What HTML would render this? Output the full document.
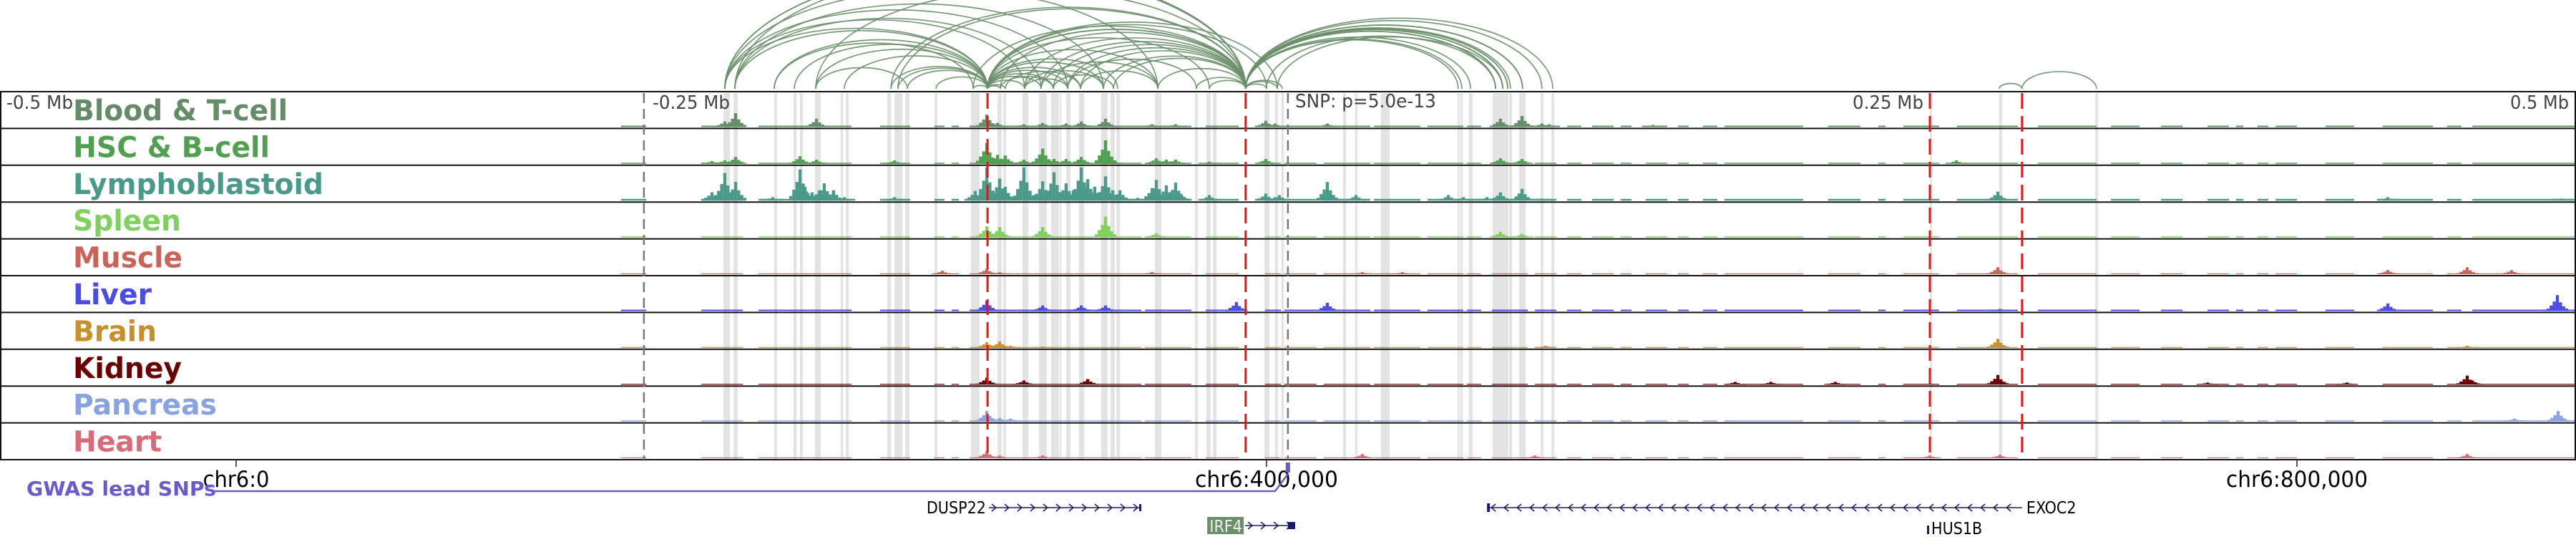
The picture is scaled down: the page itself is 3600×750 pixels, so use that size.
<!DOCTYPE html>
<html><head><meta charset="utf-8"><style>
html,body{margin:0;padding:0;background:#fff;}
svg{display:block;}
text{font-family:"DejaVu Sans Condensed","DejaVu Sans","Liberation Sans",sans-serif;}
</style></head><body>
<svg id="fig" width="3600" height="750" viewBox="0 0 3600 750" xmlns="http://www.w3.org/2000/svg">
<g id="bands"></g>
<g id="arcs"></g>
<g id="signals"></g>
<g id="frames"></g>
<g id="vlines"></g>
<g id="labels"></g>
<g id="axis"></g>
<g id="genes"></g>
</svg>
<script>
// ---- data (positions in kb on chr6) ----
const tissueNames = ["Blood & T-cell","HSC & B-cell","Lymphoblastoid","Spleen","Muscle","Liver","Brain","Kidney","Pancreas","Heart"];
const tissueColors = ["#648c66","#4fa04f","#4a9a8a","#80d060","#c8645a","#4b4be6","#c8902a","#6b0000","#88a2e2","#d86a7a"];
const baselineLevels = [2,1.5,2.5,1.5,1.2,2,1.2,1.2,1.5,1.2];
const coverage = [[149.4,159.2],[180.6,196.7],[202.8,238.9],[250,261.7],[271.1,275],[277.8,280.6],[284.7,351.4],[352.8,370.8],[376.4,389.2],[399.4,405.6],[406.9,419.4],[422.2,440.3],[441.7,459.7],[462.5,476.4],[477.8,483.3],[487.5,501.4],[504.2,512.5],[516.7,522.2],[526.4,534.7],[537.5,541.7],[547.2,555.6],[559.7,563.9],[569.4,575],[577.8,608.3],[618,630.6],[637.5,640.3],[647.2,661.1],[668,691.7],[699.4,722.2],[727.8,738.9],[747.2,755.6],[765.3,773.6],[776.4,779.2],[784.7,788.9],[791.7,800],[811.1,822.2],[833.3,852.8],[858.3,863.9],[868.1,908.3]];
const peaksBlood = [[189.7,8],[193.9,20],[225.3,12],[291.4,18],[295.6,6],[305.8,4],[313.1,6],[322.2,5],[328.1,8],[337.5,12],[355.6,4],[364.7,4],[399.7,9],[403.3,5],[423.6,5],[490.8,12],[499.2,16],[506.9,5],[509.7,4],[550,3]];
const peaksHSC = [[184.7,4],[189.7,5],[193.9,10],[218.9,11],[225.3,6],[255.6,5],[291.4,30],[295.6,13],[298.6,12],[305.8,6],[313.1,22],[317.5,7],[322.2,7],[328.1,10],[337.5,34],[340.3,5],[357.2,8],[361.1,6],[364.7,6],[377.8,3],[399.7,7],[490.8,8],[499.2,7],[667.8,5]];
const peaksLympho = [[184.7,12],[189.7,40],[193.9,27],[186.1,8],[208.3,5],[218.9,45],[220.8,20],[223.6,12],[226.4,15],[228.3,25],[231.9,15],[236.1,5],[255.6,5],[286.9,14],[291.4,48],[296.4,32],[298.6,20],[302.8,5],[305.8,48],[309.7,8],[313.1,28],[317.5,41],[322.2,25],[325,15],[328.1,48],[330.6,31],[333.3,20],[337.5,35],[340.3,15],[343.1,15],[350,4],[355.6,18],[357.2,30],[361.1,22],[364.7,26],[366.7,10],[377.8,8],[399.7,10],[403.3,5],[405,8],[423.6,27],[425.6,8],[434.7,8],[470.6,8],[476.4,5],[485.6,5],[490.8,12],[499.2,17],[506.9,3],[683.9,13],[835.3,5],[902.8,3]];
const peaksSpleen = [[291.4,16],[296.4,15],[313.1,15],[337.5,30],[357.2,6],[490.8,8],[499.2,5]];
const peaksMuscle = [[274.2,5],[291.4,8],[296.4,3],[355.6,3],[437.2,3],[452.8,3],[683.9,10],[835.3,6],[866.1,10],[883.3,6]];
const peaksLiver = [[291.4,15],[313.1,8],[328.1,8],[337.5,8],[388.3,13],[423.6,12],[684.7,3],[835.3,11],[901.1,23]];
const peaksBrain = [[291.4,8],[296.4,9],[300.6,3],[313.1,2],[508.3,3],[683.9,13],[866.1,3]];
const peaksKidney = [[291.4,10],[305.8,6],[330.6,8],[581.9,4],[595.8,4],[620.8,4],[683.9,14],[765.3,3],[819.4,3],[866.1,13],[868.1,6]];
const peaksPancreas = [[291.4,15],[296.4,5],[300.6,4],[884.4,4],[901.4,15]];
const peaksHeart = [[291.4,10],[296.4,4],[313.1,4],[437.2,6],[504.2,4],[657.5,4],[684.7,5],[866.1,6]];
const trackPeaks = [peaksBlood,peaksHSC,peaksLympho,peaksSpleen,peaksMuscle,peaksLiver,peaksBrain,peaksKidney,peaksPancreas,peaksHeart];
const bands = [[189.2,191.7],[193.1,194.7],[208.9,210],[216.4,217.5],[218.9,220],[224.7,226.9],[234.7,235.6],[236.7,237.8],[252.8,254.2],[255.6,258.6],[259.7,261.4],[271.1,272.2],[285.3,288.6],[295.6,297.2],[297.8,298.9],[305.3,307.5],[311.7,314.7],[316.4,319.4],[319.7,320.3],[322.2,323.9],[327.2,329.2],[335.8,338.3],[339.4,341.1],[341.7,343.1],[356.7,359.2],[372.2,373.3],[376.7,378.3],[379.2,380.6],[399.2,401.1],[403.3,404.4],[405.8,406.7],[429.7,430.8],[434.4,435.3],[444.4,447.8],[474.2,475],[475.3,476.1],[478.6,480],[487.8,493.9],[494.2,495.3],[498.1,500.6],[506.4,507.5],[510.6,511.7],[657.5,658.3],[684.4,685.6],[721.7,722.8]];
const redLines = [291.7,391.9,657.5,693.3];
const greyLines = [158.3,408.3];
const arcs = [[189.7,391.9],[193.6,391.9],[189.7,391.9],[225,391.9],[254.2,391.9],[256.9,391.9],[286.1,391.9],[291.7,391.9],[291.7,391.9],[296.7,391.9],[306.1,391.9],[312.5,391.9],[317.2,391.9],[322.8,391.9],[327.8,391.9],[336.7,391.9],[340.6,391.9],[357.8,391.9],[372.8,391.9],[377.8,391.9],
[291.7,296.7],[291.7,298.6],[291.7,306.1],[291.7,312.5],[291.7,317.2],[291.7,322.8],[291.7,327.8],[291.7,336.7],[291.7,342.2],[291.7,357.8],[291.7,377.8],[291.7,400],[291.7,404.2],
[189.7,291.7],[193.6,291.7],[208.9,291.7],[216.7,291.7],[225,291.7],[236.1,291.7],[254.2,291.7],[256.9,291.7],[260.6,291.7],[271.7,291.7],[286.1,291.7],
[189.7,306.1],[193.6,312.5],[189.7,322.8],[193.6,336.7],[189.7,357.8],[208.9,286.1],[225,260.6],
[306.1,336.7],[312.5,357.8],[317.2,340.6],[322.8,372.8],[327.8,357.8],[296.7,317.2],[298.6,327.8],[306.1,322.8],
[391.9,400],[391.9,404.2],[391.9,406.1],[391.9,474.4],[391.9,475.8],[391.9,479.2],[391.9,488.9],[391.9,488.9],[391.9,491.7],[391.9,491.7],[391.9,493.6],[391.9,493.6],[391.9,494.7],[391.9,499.4],[391.9,499.4],[391.9,506.9],[391.9,511.1],[400,488.9],[404.2,491.7],
[684.4,693.3],[693.3,722.2]];
const tickValues = [0,400,800];
const tickLabels = ["chr6:0","chr6:400,000","chr6:800,000"];
const mbLabels = [["-0.5 Mb",-91.7],["-0.25 Mb",158.3],["0.25 Mb",658.3],["0.5 Mb",908.3]];
const genes = [{name:"DUSP22",start:292.2,end:351.4,strand:1,row:0},{name:"EXOC2",start:485.6,end:693.3,strand:-1,row:0},{name:"IRF4",start:391.7,end:411.1,strand:1,row:1},{name:"HUS1B",start:656.4,end:656.9,strand:1,row:1}];
const snpPos = 408.3;

// ---- scales ----
const X0=330, PXKB=3.6;
function xs(kb){return X0+kb*PXKB;}
const TOP=128, TH=51.4, NT=10;
function trackTop(i){return TOP+i*TH;}
function trackBottom(i){return TOP+(i+1)*TH-2;}
function ys(i,v){return trackBottom(i)-v*(TH-5)/48;}
const NS="http://www.w3.org/2000/svg";
function mk(tag,attrs,parent){const e=document.createElementNS(NS,tag);for(const k in attrs)e.setAttribute(k,attrs[k]);parent.appendChild(e);return e;}

// bands
const gB=document.getElementById('bands');
bands.forEach(b=>{
  const r=mk('rect',{x:xs(b[0]),y:TOP+2,width:Math.max(2,xs(b[1])-xs(b[0])),height:NT*TH-2,fill:'#e3e3e3'},gB);
  
  
});

// arcs
const gA=document.getElementById('arcs');
const ARCBASE=124;
arcs.forEach(a=>{
  const x1=xs(a[0]),x2=xs(a[1]);const rx=(x2-x1)/2;const ry=rx*2*0.23;
  const p=mk('path',{d:`M${x1},${ARCBASE} A${rx},${ry} 0 0 1 ${x2},${ARCBASE}`,fill:'none',stroke:'#6a8f6a','stroke-width':1.7,'stroke-opacity':0.9},gA);
  
  
});

// signals
const gS=document.getElementById('signals');
for(let i=0;i<NT;i++){
  const g=mk('g',{fill:tissueColors[i]},gS);
  
  
  const bl=baselineLevels[i];
  coverage.forEach(c=>{
    mk('rect',{x:xs(c[0]),y:ys(i,bl),width:xs(c[1])-xs(c[0]),height:trackBottom(i)-ys(i,bl)},g);
  });
  trackPeaks[i].forEach(p=>{
    const parts=[[0,1],[-1.2,0.6],[1.2,0.55],[-2.4,0.35],[2.4,0.3],[-3.6,0.15],[3.6,0.15]];
    parts.forEach(q=>{
      const h=Math.max(bl,p[1]*q[1]);
      const r=mk('rect',{x:xs(p[0]+q[0]-0.6),y:ys(i,h),width:PXKB*1.2,height:trackBottom(i)-ys(i,h)},g);
      
      
    });
  });
}

// frames
const gF=document.getElementById('frames');
for(let i=0;i<=NT;i++){
  mk('line',{x1:0,x2:3600,y1:trackTop(i),y2:trackTop(i),stroke:'#111','stroke-width':2},gF);
}
mk('line',{x1:1,x2:1,y1:TOP,y2:trackTop(NT),stroke:'#111','stroke-width':2},gF);
mk('line',{x1:3599,x2:3599,y1:TOP,y2:trackTop(NT),stroke:'#111','stroke-width':2},gF);

// vertical marker lines
const gV=document.getElementById('vlines');
greyLines.forEach(k=>{
  const l=mk('line',{x1:xs(k),x2:xs(k),y1:TOP+2,y2:trackTop(NT),stroke:'#777','stroke-width':2.5,'stroke-dasharray':'14 8'},gV);
  
  
});
redLines.forEach(k=>{
  const l=mk('line',{x1:xs(k),x2:xs(k),y1:TOP+2,y2:trackTop(NT),stroke:'#ee1111','stroke-width':3,'stroke-dasharray':'22 10'},gV);
  
  
});

// labels
const gL=document.getElementById('labels');
const labelWidths=[300,275,350,151,153,110,117,152,201,124];
tissueNames.forEach((n,i)=>{
  const t=mk('text',{x:102,y:trackTop(i)+40,'font-size':40,'font-weight':'bold',fill:tissueColors[i],textLength:labelWidths[i],lengthAdjust:'spacingAndGlyphs'},gL);
  t.textContent=n;
  
  
});
const mbPos=[[9,'start',93],[912,'start',108],[2688,'end',99],[3590,'end',82]];
mbLabels.forEach((m,i)=>{
  const t=mk('text',{x:mbPos[i][0],y:152,'font-size':26,fill:'#444','text-anchor':mbPos[i][1],textLength:mbPos[i][2],lengthAdjust:'spacingAndGlyphs'},gL);
  t.textContent=m[0];
  
  
});
{const t=mk('text',{x:xs(snpPos)+10,y:150,'font-size':26,fill:'#444',textLength:197,lengthAdjust:'spacingAndGlyphs'},gL);
 t.textContent='SNP: p=5.0e-13';
 
 }

// axis
const gX=document.getElementById('axis');
const tickW=[93,200,198];
tickValues.forEach((v,i)=>{
  const x=xs(v);
  mk('line',{x1:x,x2:x,y1:642,y2:652,stroke:'#222','stroke-width':1.5},gX);
  const t=mk('text',{x:x,y:680,'font-size':31,fill:'#000','text-anchor':'middle',textLength:tickW[i],lengthAdjust:'spacingAndGlyphs'},gX);
  t.textContent=tickLabels[i];
  
  
});
// GWAS
{const sx=xs(snpPos);
 mk('path',{d:`M300,686 L${sx-18},686 L${sx},662`,fill:'none',stroke:'#6a5acd','stroke-width':2.5},gX);
 mk('rect',{x:sx-3,y:646,width:6,height:14,fill:'#6a5acd'},gX);
 const t=mk('text',{x:37,y:692,'font-size':28,'font-weight':'bold',fill:'#6a5acd',textLength:265,lengthAdjust:'spacingAndGlyphs'},gX);
 t.textContent='GWAS lead SNPs';
 
 }

// genes
const gG=document.getElementById('genes');
genes.forEach(g=>{
  const y=g.row===0?709:734;const x1=xs(g.start),x2=xs(g.end);
  const grp=mk('g',{},gG);
  
  
  if(g.name==='HUS1B'){
    mk('rect',{x:x1,y:y,width:3,height:12,fill:'#1a1a70'},grp);
    const t=mk('text',{x:x1+6,y:y+12,'font-size':23,fill:'#000'},grp);t.textContent=g.name;
    return;
  }
  mk('line',{x1:x1,x2:x2,y1:y,y2:y,stroke:'#1a1a70','stroke-width':1.6},grp);
  for(let x=x1+8;x<x2-6;x+=18){
    const d=g.strand>0?`M${x-4},${y-5} L${x+2},${y} L${x-4},${y+5}`:`M${x+4},${y-5} L${x-2},${y} L${x+4},${y+5}`;
    mk('path',{d:d,fill:'none',stroke:'#1a1a70','stroke-width':1.5},grp);
  }
  if(g.name==='IRF4'){
    mk('rect',{x:x2-10,y:y-5,width:10,height:10,fill:'#1a1a70'},grp);
    mk('rect',{x:x1-53,y:y-12,width:51,height:24,fill:'#6a8f6a'},grp);
    const t=mk('text',{x:x1-27,y:y+9,'font-size':23,fill:'#eee','text-anchor':'middle'},grp);t.textContent=g.name;
  } else if(g.name==='EXOC2'){
    mk('rect',{x:x1,y:y-6,width:4,height:12,fill:'#1a1a70'},grp);
    const t=mk('text',{x:x2+6,y:y+8,'font-size':23,fill:'#000'},grp);t.textContent=g.name;
  } else {
    mk('rect',{x:x2-3,y:y-5,width:3,height:10,fill:'#1a1a70'},grp);
    const t=mk('text',{x:x1-4,y:y+8,'font-size':23,fill:'#000','text-anchor':'end'},grp);t.textContent=g.name;
  }
});
</script>
</body></html>
